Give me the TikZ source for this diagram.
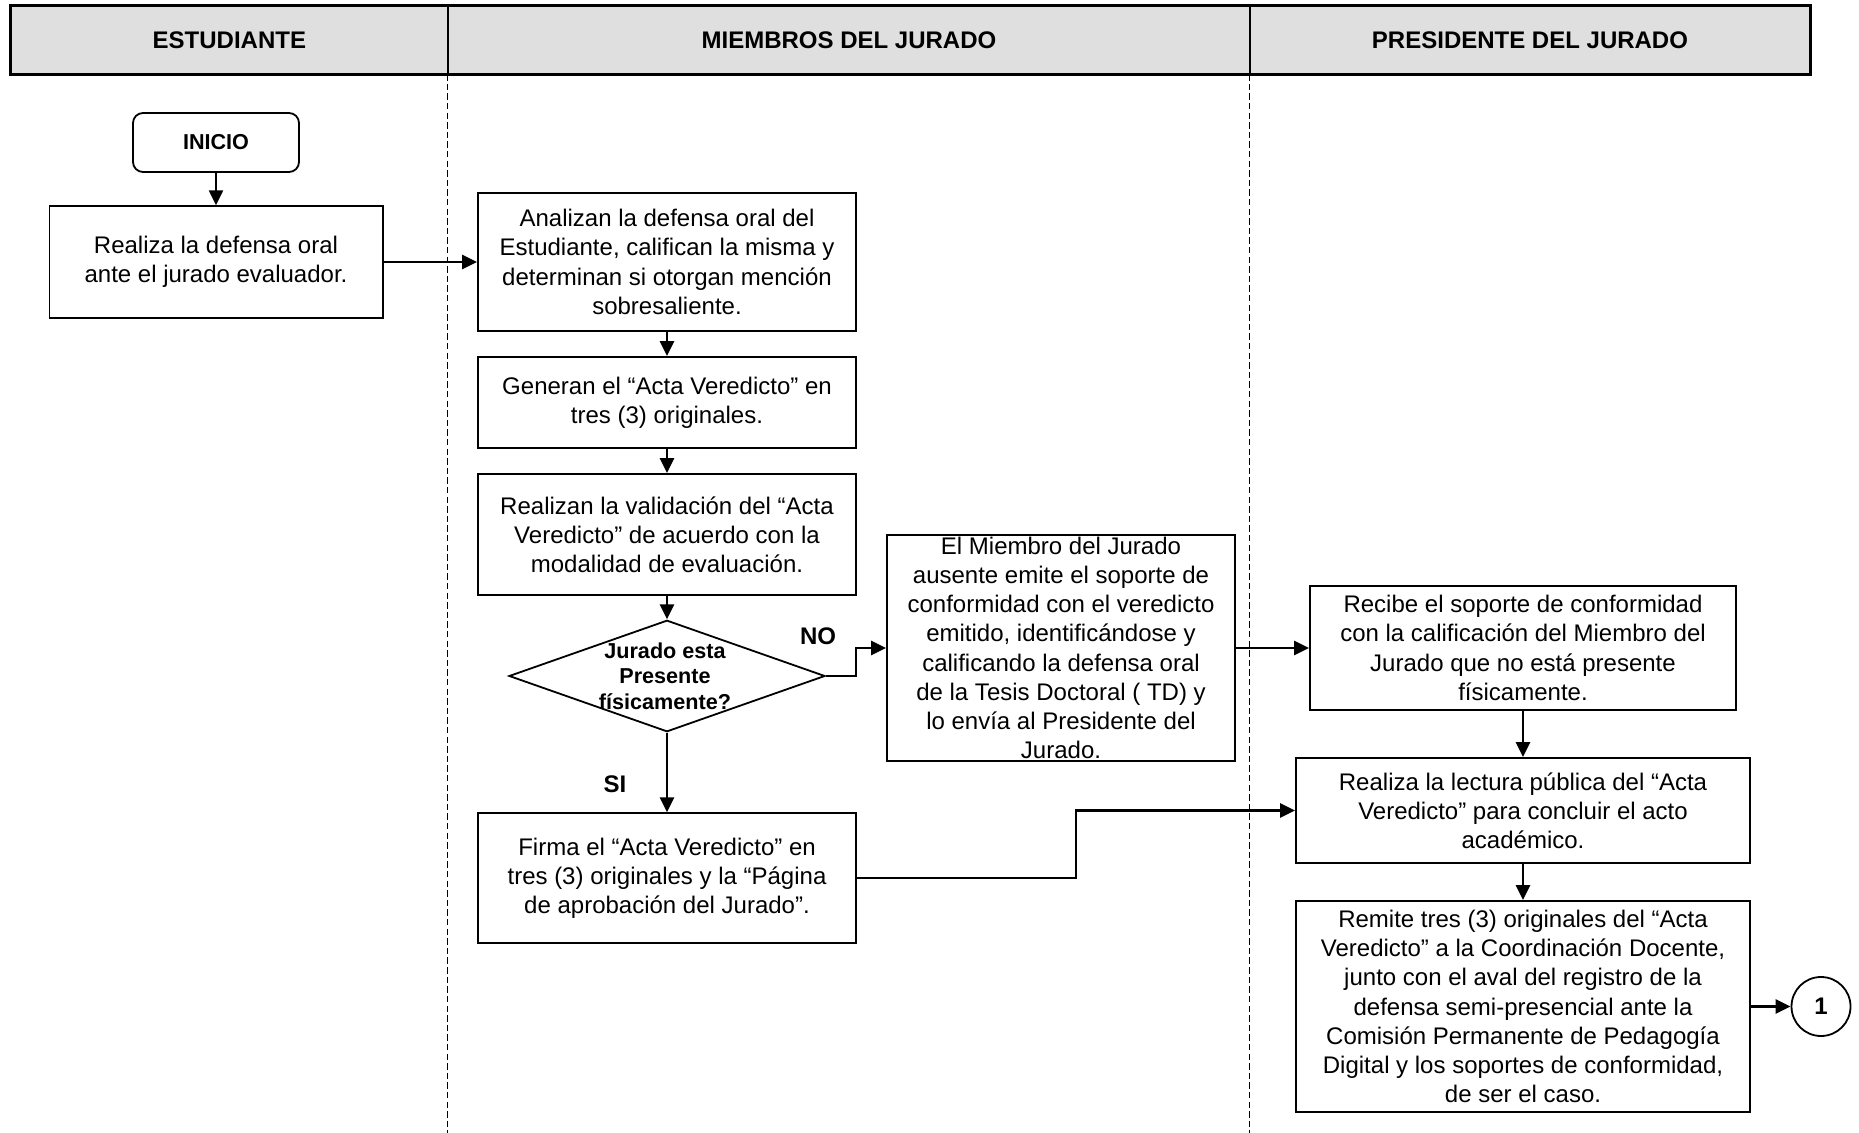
\documentclass[tikz,border=0pt]{standalone}
\usepackage{fontspec}
\setmainfont{Liberation Sans}
\usetikzlibrary{arrows.meta,shapes.geometric}

\tikzset{
  hdr/.style={draw, line width=0.8pt, fill=gray!25, minimum height=33.75pt, inner sep=0pt,
    font=\fontsize{12}{14}\selectfont\bfseries},
  lane/.style={line width=0.6pt, dash pattern=on 3.2pt off 1.6pt},
  stepbox/.style={draw, line width=0.9pt, align=center, inner sep=0pt,
    font=\fontsize{12}{14.6}\selectfont},
  startbox/.style={draw, line width=0.9pt, rounded corners=5pt, inner sep=0pt,
    minimum width=83pt, minimum height=29.5pt, font=\fontsize{10.8}{13}\selectfont\bfseries},
  decision/.style={draw, diamond, line width=0.9pt, inner sep=0pt},
  dectext/.style={align=center, inner sep=0pt, font=\fontsize{10.8}{12.8}\selectfont\bfseries},
  conn/.style={draw, circle, line width=0.9pt, inner sep=0pt, minimum size=29.5pt,
    font=\fontsize{12}{14}\selectfont\bfseries},
  lbl/.style={inner sep=0pt, font=\fontsize{12}{14}\selectfont\bfseries},
  arr/.style={line width=1.2pt, -{Triangle[length=7.5pt,width=7pt]}}
}

\begin{document}
\begin{tikzpicture}[x=0.5pt,y=-0.5pt]
\useasboundingbox (0,0) rectangle (1859,1133);
\coordinate (bot) at (0,1133);

% lane headers
\node[hdr, minimum width=218.65pt] (h1) at (229.35,39.75) {ESTUDIANTE};
\node[hdr, minimum width=401pt] (h2) at (849,39.75) {MIEMBROS DEL JURADO};
\node[hdr, minimum width=280pt] (h3) at (1530,39.75) {PRESIDENTE DEL JURADO};
\draw[line width=1.3pt] (h1.north west) rectangle (h3.south east);

% lane separators
\draw[lane] (h2.south west) -- (h2.south west |- bot);
\draw[lane] (h3.south west) -- (h3.south west |- bot);

% Estudiante
\node[startbox] (inicio) at (216,142.5) {INICIO};
\node[stepbox, minimum width=166.6pt, minimum height=55.8pt] (realiza) at (216,262)
  {Realiza la defensa oral\\ante el jurado evaluador.};

% Miembros del jurado
\node[stepbox, minimum width=189pt, minimum height=69pt] (analizan) at (667,262)
  {Analizan la defensa oral del\\Estudiante, califican la misma y\\determinan si otorgan mención\\sobresaliente.};
\node[stepbox, minimum width=189pt, minimum height=45.5pt] (generan) at (667,402.5)
  {Generan el “Acta Veredicto” en\\tres (3) originales.};
\node[stepbox, minimum width=189pt, minimum height=60.5pt] (valida) at (667,534.5)
  {Realizan la validación del “Acta\\Veredicto” de acuerdo con la\\modalidad de evaluación.};
\node[decision, minimum width=158pt, minimum height=55.75pt] (dec) at (667,676) {};
\node[dectext] (dectxt) at (665,676) {Jurado esta\\Presente\\físicamente?};
\node[stepbox, minimum width=174pt, minimum height=113pt] (miembro) at (1061,648)
  {El Miembro del Jurado\\ausente emite el soporte de\\conformidad con el veredicto\\emitido, identificándose y\\calificando la defensa oral\\de la Tesis Doctoral ( TD) y\\lo envía al Presidente del\\Jurado.};
\node[stepbox, minimum width=189pt, minimum height=64.75pt] (firma) at (667,878)
  {Firma el “Acta Veredicto” en\\tres (3) originales y la “Página\\de aprobación del Jurado”.};

% Presidente del jurado
\node[stepbox, minimum width=213pt, minimum height=62pt] (recibe) at (1523,648)
  {Recibe el soporte de conformidad\\con la calificación del Miembro del\\Jurado que no está presente\\físicamente.};
\node[stepbox, minimum width=227pt, minimum height=52.5pt] (lectura) at (1523,810.5)
  {Realiza la lectura pública del “Acta\\Veredicto” para concluir el acto\\académico.};
\node[stepbox, minimum width=227pt, minimum height=105.5pt] (remite) at (1523,1006.5)
  {Remite tres (3) originales del “Acta\\Veredicto” a la Coordinación Docente,\\junto con el aval del registro de la\\defensa semi-presencial ante la\\Comisión Permanente de Pedagogía\\Digital y los soportes de conformidad,\\de ser el caso.};
\node[conn] (c1) at (1821,1006.5) {1};

% branch labels
\node[lbl] (no) at (818,636) {NO};
\node[lbl] (si) at (615,784) {SI};

% connectors
\draw[arr] (inicio) -- (realiza);
\draw[arr] (realiza.east) -- (realiza.east -| analizan.west);
\draw[arr] (analizan) -- (generan);
\draw[arr] (generan) -- (valida);
\draw[arr] (valida) -- (dec);
\draw[arr] (dec.south) -- (firma.north);
\draw[arr] (dec.east) -- ++(30,0) |- (miembro.west);
\draw[arr] (miembro.east) -- (recibe.west);
\draw[arr] (recibe) -- (lectura);
\draw[arr] (lectura) -- (remite);
\draw[arr] (firma.east) -- ++(219,0) |- (lectura.west);
\draw[arr] (remite.east) -- (c1.west);
\end{tikzpicture}
\end{document}
